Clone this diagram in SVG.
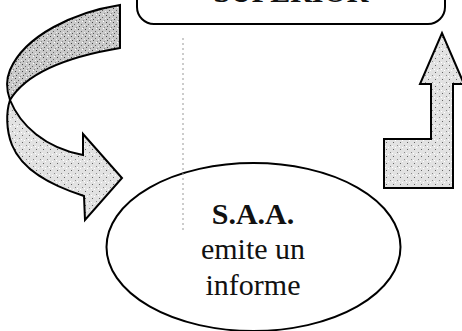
<svg xmlns="http://www.w3.org/2000/svg" width="462" height="331" viewBox="0 0 462 331">
<style>
.shape{stroke:#000;stroke-width:2;stroke-linejoin:miter}
.t{font-family:"Liberation Serif","Times New Roman",serif;font-size:30px;fill:#111;text-anchor:middle}
.b{font-weight:bold}
.guide{stroke:#999;stroke-width:1;stroke-dasharray:2 3;fill:none}
</style>
<defs>
<pattern id="dark" width="7" height="7" patternUnits="userSpaceOnUse">
<rect width="7" height="7" fill="#c9c9c9"/>
<rect x="1" y="1" width="1" height="1" fill="#444"/>
<rect x="4" y="3" width="1" height="1" fill="#666"/>
<rect x="2" y="5" width="1" height="1" fill="#555"/>
<rect x="6" y="6" width="1" height="1" fill="#888"/>
<rect x="5" y="0" width="1" height="1" fill="#fff"/>
<rect x="0" y="4" width="1" height="1" fill="#eee"/>
</pattern>
<pattern id="light" width="7" height="7" patternUnits="userSpaceOnUse">
<rect width="7" height="7" fill="#e2e2e2"/>
<rect x="1" y="2" width="1" height="1" fill="#666"/>
<rect x="5" y="5" width="1" height="1" fill="#888"/>
<rect x="3" y="0" width="1" height="1" fill="#fff"/>
<rect x="0" y="6" width="1" height="1" fill="#fff"/>
</pattern>
</defs>
<g id="top-box">
<rect class="shape" x="137" y="-44" width="308" height="68" rx="17" fill="#fff"/>
<text class="t b" x="291" y="2">SUPERIOR</text>
</g>
<g id="saa">
<ellipse class="shape" cx="253.5" cy="247" rx="147" ry="84" fill="#fff" stroke-width="1.6"/>
<text class="t b" x="253" y="224">S.A.A.</text>
<text class="t" x="253" y="259">emite un</text>
<text class="t" x="253" y="295">informe</text>
</g>
<g id="connectors">
<line class="guide" x1="183" y1="38" x2="183" y2="232"/>
<path class="shape" fill="url(#dark)" d="M120,5 C75,12 25,35 10,70 C5,82 7,92 10,100 C25,75 60,58 120,48 Z"/>
<path class="shape" fill="url(#light)" d="M10,100 C20,125 45,148 83,155 L83,134 L122,178 L85,220 L84,196 C50,185 22,170 12,145 C6,130 6,112 10,100 Z"/>
<path class="shape" fill="url(#light)" d="M384,139 L431,139 L431,84 L420,84 L442,33 L464,84 L453,84 L453,188 L384,188 Z"/>
</g>
</svg>
